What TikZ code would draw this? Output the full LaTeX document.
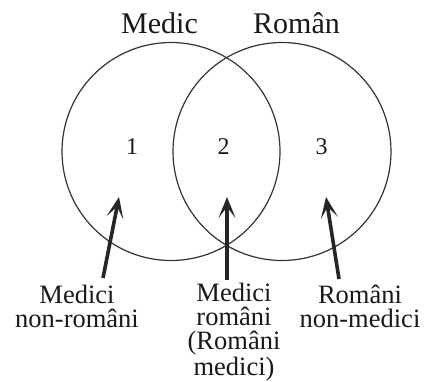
\documentclass[tikz,border=0pt]{standalone}
\usepackage{fontspec}
\setmainfont{Liberation Serif}
\usetikzlibrary{arrows.meta}
\begin{document}
\begin{tikzpicture}[x=1pt,y=-1pt,
  setcircle/.style={draw=black!80,line width=1.2pt},
  title/.style={inner sep=0pt,anchor=base,font=\fontsize{30}{30}\selectfont,text=black!90},
  num/.style={inner sep=0pt,anchor=base,font=\fontsize{24}{24}\selectfont,text=black!90},
  lbl/.style={inner sep=0pt,anchor=base,align=center,font=\fontsize{26.5}{24}\selectfont,text=black!90},
  pointer/.style={draw=black!85,line width=3.6pt,-{Stealth[length=21pt,width=17pt,inset=11pt]}}]
\useasboundingbox (0,0) rectangle (425,381);
\node[setcircle,circle,minimum size=218pt,inner sep=0pt] (A) at (171,151.5) {};
\node[setcircle,circle,minimum size=218pt,inner sep=0pt] (B) at (282,151.5) {};
\node[title] (tA) at (159.5,33) {Medic};
\node[title] (tB) at (296.5,33) {Român};
\node[num] (n1) at (132,154) {1};
\node[num] (n2) at (223.5,154) {2};
\node[num] (n3) at (321.5,154) {3};
\node[lbl] (L1) at (77,327) {Medici\\non-români};
\node[lbl] (L2) at (234,375) {Medici\\români\\(Români\\medici)};
\node[lbl] (L3) at (360,327) {Români\\non-medici};
\coordinate (s1) at (103,278);
\coordinate (e1) at (119,197);
\coordinate (s2) at (227,280);
\coordinate (e2) at (227,197);
\coordinate (s3) at (339,279);
\coordinate (e3) at (326,197);
\draw[pointer] (s1) -- (e1);
\draw[pointer] (s2) -- (e2);
\draw[pointer] (s3) -- (e3);
\end{tikzpicture}
\end{document}
